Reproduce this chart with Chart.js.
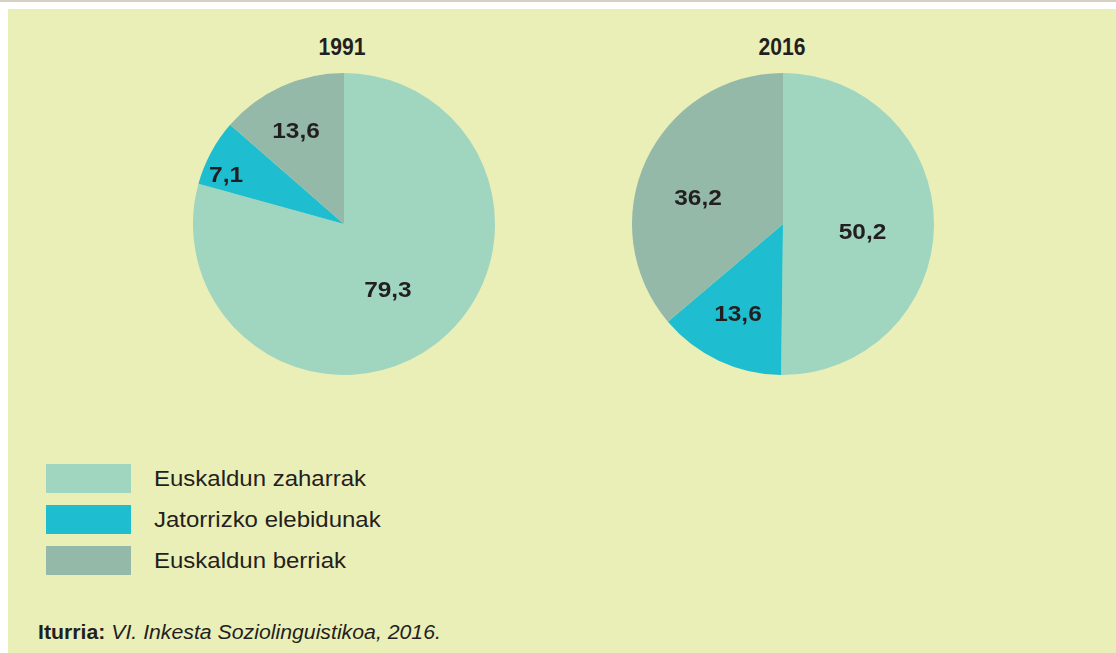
<!DOCTYPE html>
<html>
<head>
<meta charset="utf-8">
<script src="https://cdn.jsdelivr.net/npm/chart.js@4"></script>
<style>
  body { margin: 0; background: #fff; font-family: Arial, "Liberation Sans", sans-serif; }
  #topline { position: absolute; left: 0; top: 0; width: 1116px; height: 2px; background: #d4d0c4; }
  #panel { position: absolute; left: 8px; top: 9px; width: 1108px; height: 644px; background: #eaefb7; }
  .title { position: absolute; top: 33px; width: 120px; text-align: center; font-weight: bold; font-size: 24px; line-height: 28px; color: #231f20; transform: scaleX(0.88); }
  canvas { position: absolute; }
  .leg { position: absolute; left: 46px; width: 85px; height: 29px; }
  .legtxt { position: absolute; left: 154px; font-size: 22.5px; line-height: 26px; color: #231f20; transform: scaleX(1.066); transform-origin: left center; white-space: nowrap; }
  #src { position: absolute; left: 38px; top: 620px; font-size: 19.5px; line-height: 24px; color: #231f20; transform: scaleX(1.09); transform-origin: left center; white-space: nowrap; }
</style>
</head>
<body>
<div id="topline"></div>
<div id="panel"></div>
<div class="title" style="left:282px">1991</div>
<div class="title" style="left:722px">2016</div>
<canvas id="pie1991" width="302" height="302" style="left:193px;top:73px;width:302px;height:302px"></canvas>
<canvas id="pie2016" width="302" height="302" style="left:632px;top:73px;width:302px;height:302px"></canvas>
<div id="legend"></div>
<div id="src"><b>Iturria:</b> <i>VI. Inkesta Soziolinguistikoa, 2016.</i></div>
<script>
const categories = ['Euskaldun zaharrak', 'Jatorrizko elebidunak', 'Euskaldun berriak'];
const values1991 = [79.3, 7.1, 13.6];
const values2016 = [50.2, 13.6, 36.2];
const colors = ['#a0d5c0', '#1ebdd0', '#94b9a8'];

// label placement: r = fraction of radius, da = shift from mid angle (degrees)
const labelPos = {
    pie1991: [{ r: 0.525, da: 3.6 }, { r: 0.846, da: -5.7 }, { r: 0.693, da: -2.8 }],
    pie2016: [{ r: 0.529, da: 5.3 }, { r: 0.666, da: 1.4 }, { r: 0.589, da: -7.6 }],
};

const valueLabels = {
    id: 'valueLabels',
    afterDatasetsDraw(chart) {
        const ctx = chart.ctx;
        const meta = chart.getDatasetMeta(0);
        const pos = labelPos[chart.canvas.id];
        meta.data.forEach((arc, i) => {
            const mid = (arc.startAngle + arc.endAngle) / 2 + pos[i].da * Math.PI / 180;
            const r = arc.outerRadius * pos[i].r;
            const txt = chart.data.datasets[0].data[i].toFixed(1).replace('.', ',');
            ctx.save();
            ctx.translate(arc.x + Math.cos(mid) * r, arc.y + Math.sin(mid) * r + 1);
            ctx.scale(1.11, 1);
            ctx.font = 'bold 22px Arial, "Liberation Sans", sans-serif';
            ctx.fillStyle = '#231f20';
            ctx.textAlign = 'center';
            ctx.textBaseline = 'middle';
            ctx.fillText(txt, 0, 0);
            ctx.restore();
        });
    }
};

function makePie(id, values) {
    new Chart(document.getElementById(id), {
        type: 'pie',
        data: {
            labels: categories,
            datasets: [{ data: values, backgroundColor: colors, borderWidth: 0 }],
        },
        options: {
            responsive: false,
            animation: false,
            plugins: { legend: { display: false }, tooltip: { enabled: false } },
        },
        plugins: [valueLabels],
    });
}

makePie('pie1991', values1991);
makePie('pie2016', values2016);

const legend = document.getElementById('legend');
categories.forEach((c, i) => {
    const top = 464 + i * 41;
    legend.innerHTML += '<div class="leg" style="top:' + top + 'px;background:' + colors[i] + '"></div>' +
        '<div class="legtxt" style="top:' + (top + 2) + 'px">' + c + '</div>';
});
</script>
</body>
</html>
